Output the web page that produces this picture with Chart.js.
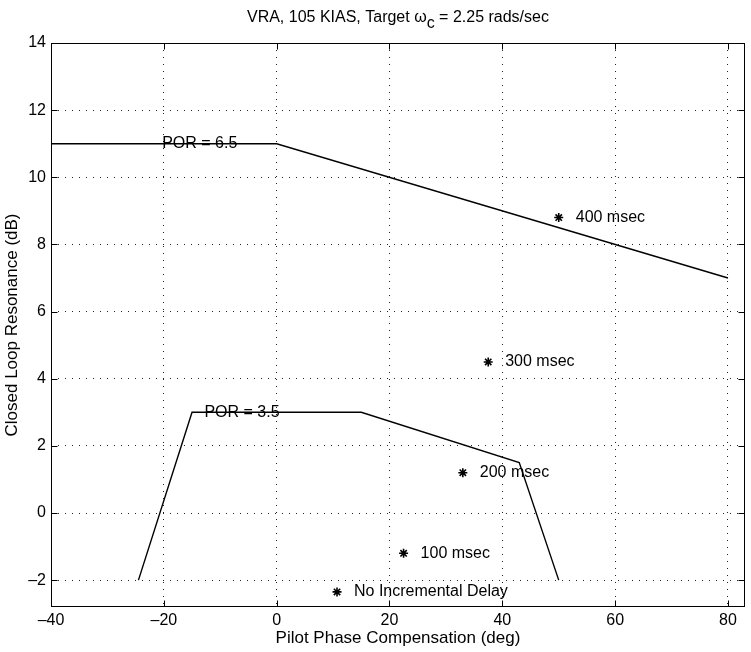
<!DOCTYPE html>
<html>
<head>
<meta charset="utf-8">
<script src="https://cdn.jsdelivr.net/npm/chart.js@4.4.1/dist/chart.umd.min.js"></script>
<style>
html,body{margin:0;padding:0;background:#fff;}
#wrap{width:751px;height:652px;}
</style>
</head>
<body>
<div id="wrap"><canvas id="c" width="751" height="652"></canvas></div>
<script>
// ---- data ----
const upperX = [-40, 0, 80];
const upperY = [11, 11, 7];
const lowerX = [-24.5, -15, 15, 43, 50];
const lowerY = [-2, 3, 3, 1.5, -2];
const delayX = [50, 37.5, 33, 22.5, 10.7];
const delayY = [8.8, 4.5, 1.2, -1.2, -2.35];
const delayLabels = ['400 msec', '300 msec', '200 msec', '100 msec', 'No Incremental Delay'];
const porX = [-20.3, -12.8];
const porY = [11, 3];
const porLabels = ['POR = 6.5', 'POR = 3.5'];
const xTicks = [-40, -20, 0, 20, 40, 60, 80];
const yTicks = [-2, 0, 2, 4, 6, 8, 10, 12, 14];

const FONT = '"Liberation Sans", Arial, Helvetica, sans-serif';
const pts = (xs, ys) => xs.map((x, i) => ({x: x, y: ys[i]}));

const annot = {
  id: 'annot',
  afterDatasetsDraw(chart) {
    const ctx = chart.ctx, xs = chart.scales.x, ys = chart.scales.y, a = chart.chartArea;
    ctx.save();
    // box
    ctx.strokeStyle = '#000'; ctx.lineWidth = 1; ctx.setLineDash([]);
    const L = Math.round(a.left) + 0.5, T = Math.round(a.top) + 0.5;
    const R = Math.round(a.right) - 0.5, B = Math.round(a.bottom) - 0.5;
    ctx.strokeRect(L, T, R - L, B - T);
    // inward tick marks
    ctx.beginPath();
    xTicks.forEach(v => {
      const px = Math.round(xs.getPixelForValue(v)) + 0.5;
      ctx.moveTo(px, B); ctx.lineTo(px, B - 6);
      ctx.moveTo(px, T); ctx.lineTo(px, T + 6);
    });
    yTicks.forEach(v => {
      const py = Math.round(ys.getPixelForValue(v)) + 0.5;
      ctx.moveTo(L, py); ctx.lineTo(L + 6, py);
      ctx.moveTo(R, py); ctx.lineTo(R - 6, py);
    });
    ctx.stroke();
    // text labels
    ctx.fillStyle = '#000';
    ctx.font = '16px ' + FONT;
    ctx.textBaseline = 'middle';
    ctx.textAlign = 'left';
    delayLabels.forEach((t, i) => {
      ctx.fillText(t, xs.getPixelForValue(delayX[i]) + 17, ys.getPixelForValue(delayY[i]));
    });
    porLabels.forEach((t, i) => {
      ctx.fillText(t, xs.getPixelForValue(porX[i]), ys.getPixelForValue(porY[i]));
    });
    // title with subscript
    const cx = (a.left + a.right) / 2;
    const parts = [['VRA, 105 KIAS, Target ', 0], ['\u03C9', 0], ['c', 6], [' = 2.25 rads/sec', 0]];
    let w = 0;
    parts.forEach(p => { w += ctx.measureText(p[0]).width; });
    let x = cx - w / 2;
    const ty = 18;
    parts.forEach(p => {
      ctx.fillText(p[0], x, ty + p[1]);
      x += ctx.measureText(p[0]).width;
    });
    ctx.restore();
  }
};

new Chart(document.getElementById('c'), {
  type: 'scatter',
  data: {
    datasets: [
      {data: pts(upperX, upperY), showLine: true, borderColor: '#000', borderWidth: 1.4, pointRadius: 0, fill: false},
      {data: pts(lowerX, lowerY), showLine: true, borderColor: '#000', borderWidth: 1.4, pointRadius: 0, fill: false},
      {data: pts(delayX, delayY), showLine: false, pointStyle: 'star', pointRadius: 4.5, borderColor: '#000', backgroundColor: '#000', borderWidth: 1.6}
    ]
  },
  options: {
    responsive: false,
    animation: false,
    devicePixelRatio: 1,
    layout: {padding: {left: 0, right: 2, top: 43, bottom: 0}},
    plugins: {legend: {display: false}, tooltip: {enabled: false}, title: {display: false}},
    scales: {
      x: {
        type: 'linear', min: -40, max: 83,
        afterFit(s) { s.height = 45; },
        afterBuildTicks(s) { s.ticks = xTicks.map(v => ({value: v})); },
        grid: {color: '#222', lineWidth: 1, drawTicks: false},
        border: {display: false, dash: [1, 6]},
        ticks: {color: '#000', font: {family: FONT, size: 16}, padding: 4, maxRotation: 0,
                callback: v => (v < 0 ? '\u2013' + Math.abs(v) : '' + v)},
        title: {display: true, text: 'Pilot Phase Compensation (deg)', color: '#000', font: {family: FONT, size: 17}, padding: {top: 0, bottom: 3}}
      },
      y: {
        type: 'linear', min: -2.8, max: 14,
        afterFit(s) { s.width = 51; },
        afterBuildTicks(s) { s.ticks = yTicks.map(v => ({value: v})); },
        grid: {color: '#222', lineWidth: 1, drawTicks: false},
        border: {display: false, dash: [1, 6]},
        ticks: {color: '#000', font: {family: FONT, size: 16}, padding: 5,
                callback: v => (v < 0 ? '\u2013' + Math.abs(v) : '' + v)},
        title: {display: true, text: 'Closed Loop Resonance (dB)', color: '#000', font: {family: FONT, size: 17}, padding: {top: 2, bottom: 0}}
      }
    }
  },
  plugins: [annot]
});
</script>
</body>
</html>
